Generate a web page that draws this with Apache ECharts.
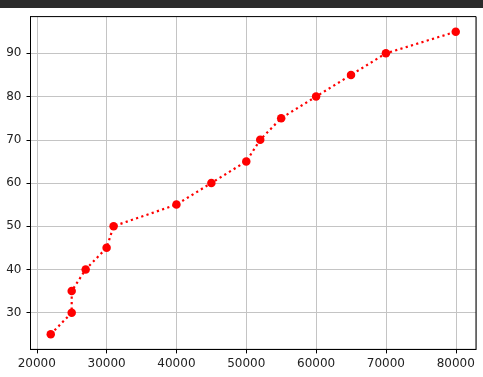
<!DOCTYPE html>
<html>
<head>
<meta charset="utf-8">
<script src="https://cdn.jsdelivr.net/npm/echarts@6/dist/echarts.min.js"></script>
<style>
html,body{margin:0;padding:0;background:#fff;}
#bar{position:absolute;left:0;top:0;width:483px;height:8px;background:#2b2b2b;}
#chart{position:absolute;left:0;top:0;width:483px;height:377px;}
</style>
</head>
<body>
<div id="chart"></div>
<div id="bar"></div>
<script>
const xValues = [22000, 25000, 25000, 27000, 30000, 31000, 40000, 45000, 50000, 52000, 55000, 60000, 65000, 70000, 80000];
const yValues = [25, 30, 35, 40, 45, 50, 55, 60, 65, 70, 75, 80, 85, 90, 95];
const xTicks = [20000, 30000, 40000, 50000, 60000, 70000, 80000];
const yTicks = [30, 40, 50, 60, 70, 80, 90];

const chart = echarts.init(document.getElementById('chart'), null, {renderer: 'canvas'});
const font = {fontFamily: 'DejaVu Sans', fontSize: 12, color: '#222'};
chart.setOption({
  animation: false,
  grid: {left: 30.5, right: 7, top: 16.6, bottom: 27.6, containLabel: false},
  xAxis: {
    type: 'value', min: 19100, max: 82900, splitNumber: 6,
    axisLine: {show: true, onZero: false, lineStyle: {color: '#000', width: 1}},
    axisTick: {show: true, length: 4, lineStyle: {color: '#000'}},
    axisLabel: Object.assign({margin: 8, showMinLabel: false, showMaxLabel: false,
      formatter: v => xTicks.includes(v) ? String(v) : ''}, font),
    splitLine: {show: true, lineStyle: {color: '#c4c4c4', width: 1}}
  },
  yAxis: {
    type: 'value', min: 21.5, max: 98.5, splitNumber: 7,
    axisLine: {show: true, onZero: false, lineStyle: {color: '#000', width: 1}},
    axisTick: {show: true, length: 4, lineStyle: {color: '#000'}},
    axisLabel: Object.assign({margin: 9, showMinLabel: false, showMaxLabel: false,
      formatter: v => yTicks.includes(v) ? String(v) : ''}, font),
    splitLine: {show: true, lineStyle: {color: '#c4c4c4', width: 1}}
  },
  graphic: [{
    type: 'rect', silent: true, z: 10,
    shape: {x: 30.5, y: 16.6, width: 476 - 30.5, height: 349.4 - 16.6},
    style: {fill: 'none', stroke: '#000', lineWidth: 1}
  }],
  series: [{
    type: 'line',
    data: xValues.map((x, i) => [x, yValues[i]]),
    symbol: 'circle', symbolSize: 8.5,
    itemStyle: {color: '#ff0000'},
    lineStyle: {color: '#ff0000', width: 2.2, type: [2.2, 3.3]},
    z: 5
  }]
});
</script>
</body>
</html>
